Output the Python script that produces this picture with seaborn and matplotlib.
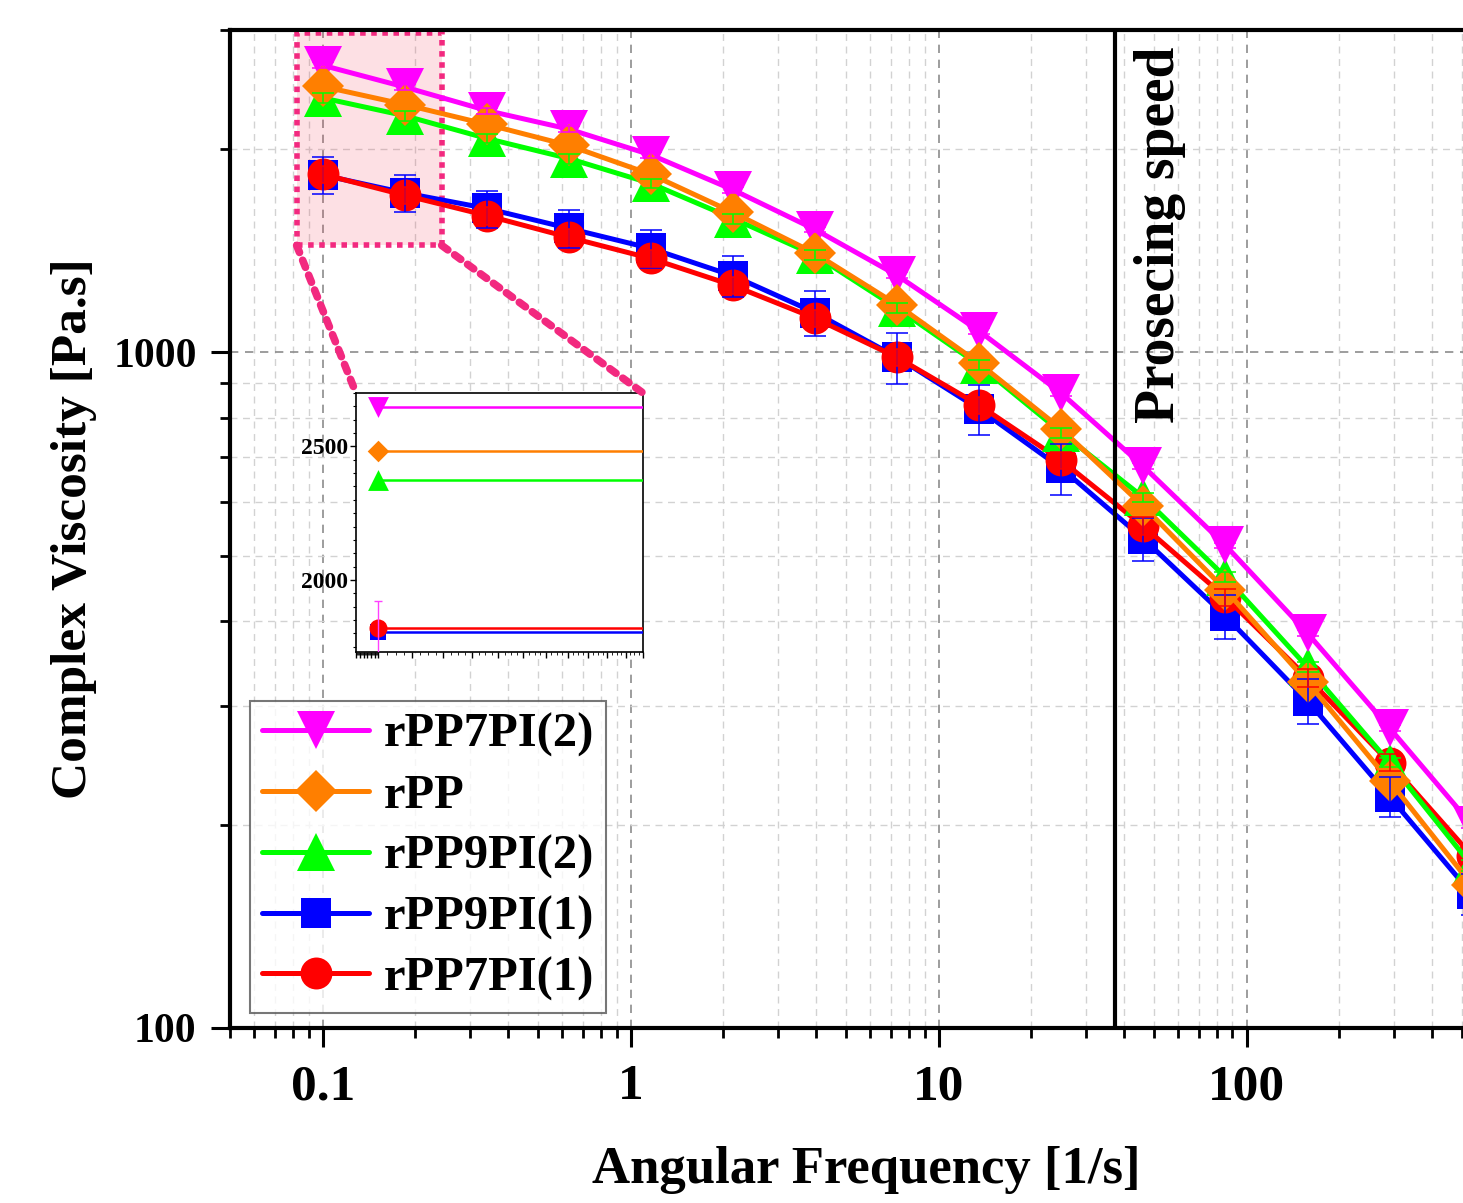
import numpy as np
import pandas as pd
import seaborn as sns
import matplotlib.pyplot as plt
import matplotlib.transforms as mtransforms
from matplotlib.patches import Rectangle, ConnectionPatch
from matplotlib.lines import Line2D
from matplotlib.ticker import FuncFormatter, NullFormatter, MultipleLocator, LogLocator

# ---- data ----
freq = [0.1, 0.1847, 0.3411, 0.630, 1.164, 2.150, 3.971, 7.335, 13.55,
        25.02, 46.22, 85.37, 157.7, 291.2, 537.9]

names = ["rPP7PI(2)", "rPP", "rPP9PI(2)", "rPP9PI(1)", "rPP7PI(1)"]

visc_rpp7pi2 = [2660, 2470, 2280, 2140, 1960, 1740, 1520, 1300, 1075, 870, 678, 518, 384, 278, 200]
visc_rpp = [2475, 2327, 2175, 2024, 1834, 1611, 1401, 1176, 963, 770, 592, 445, 325, 232, 163]
visc_rpp9pi2 = [2380, 2240, 2073, 1936, 1778, 1578, 1392, 1162, 957, 761, 610, 465, 342, 247, 174]
visc_rpp9pi1 = [1830, 1722, 1633, 1526, 1425, 1298, 1145, 983, 824, 674, 530, 407, 305, 220, 158]
visc_rpp7pi1 = [1835, 1708, 1594, 1480, 1377, 1256, 1123, 983, 835, 692, 553, 434, 330, 247, 180]

err_rpp7pi2 = [27, 25, 23, 21, 20, 17, 15, 13, 11, 9, 7, 5, 4, 3, 2]
err_rpp = [50, 46, 43, 40, 36, 32, 28, 24, 19, 15, 12, 9, 6, 5, 3]
err_rpp9pi2 = [40, 38, 35, 33, 30, 27, 24, 20, 16, 13, 10, 8, 6, 4, 3]
err_rpp9pi1 = [115, 108, 103, 100, 90, 91, 88, 84, 70, 59, 39, 30, 23, 15, 11]
err_rpp7pi1 = [55, 50, 48, 44, 41, 38, 34, 30, 25, 21, 17, 13, 10, 7, 5]

# inset (linear y) values at 0.1 1/s
inset_vals = [2647, 2481, 2376, 1805, 1820]

processing_speed = 37.5
zoom_x = [0.0823, 0.2434]
zoom_y = [1440, 2965]

visc = [visc_rpp7pi2, visc_rpp, visc_rpp9pi2, visc_rpp9pi1, visc_rpp7pi1]
errs = [err_rpp7pi2, err_rpp, err_rpp9pi2, err_rpp9pi1, err_rpp7pi1]

colors = ["#ff00ff", "#ff7f00", "#00ff00", "#0000ff", "#ff0000"]
markers = ["v", "D", "^", "s", "o"]
msizes = [28, 21, 28, 21, 23]
in_msizes = [15, 11, 15, 11, 13]
zorders = [6, 7, 5, 3, 4]
pink = "#f2297f"

df = pd.concat([pd.DataFrame({"freq": freq, "visc": v, "err": e, "sample": n})
                for n, v, e in zip(names, visc, errs)], ignore_index=True)

sns.set_theme(style="ticks")
plt.rcParams["font.family"] = ["Liberation Serif", "DejaVu Serif"]
plt.rcParams["font.weight"] = "bold"
plt.rcParams["axes.labelweight"] = "bold"
for k in ["text.color", "axes.labelcolor", "xtick.color", "ytick.color", "axes.edgecolor"]:
    plt.rcParams[k] = "black"

fig = plt.figure(figsize=(14.63, 12.03), dpi=100)
ax = fig.add_axes([230 / 1463, 175 / 1203, 1247 / 1463, 998 / 1203])
ax.set_xscale("log")
ax.set_yscale("log")

for i, n in enumerate(names):
    d = df[df["sample"] == n]
    sns.lineplot(data=d, x="freq", y="visc", ax=ax, color=colors[i], marker=markers[i],
                 markersize=msizes[i], mec=colors[i], mew=0, lw=3.6,
                 zorder=zorders[i], legend=False, sort=False)
    ax.errorbar(d["freq"], d["visc"], yerr=d["err"], fmt="none", ecolor=colors[i],
                elinewidth=1.1, capsize=8, capthick=1.1, zorder=10)

ax.set_xlim(0.05, 560)
ax.set_ylim(100, 3000)

# zoom box
ax.add_patch(Rectangle((zoom_x[0], zoom_y[0]), zoom_x[1] - zoom_x[0], zoom_y[1] - zoom_y[0],
                       facecolor=(0.95, 0.2, 0.3, 0.15), edgecolor=pink, lw=4,
                       ls=(0, (1, 1)), zorder=2))

ax.axvline(processing_speed, color="black", lw=3, zorder=8)
trans = mtransforms.blended_transform_factory(ax.transData, ax.transAxes)
ax.text(52.3, 0.983, "Prosecing speed", transform=trans, rotation=90, va="top",
        ha="center", fontsize=40, fontweight="bold", zorder=9)

ax.grid(True, which="major", color="#8c8c8c", ls=(0, (5, 4)), lw=1.2)
ax.grid(True, which="minor", color="#d2d2d2", ls=(0, (5, 4)), lw=1.0)
ax.set_axisbelow(True)

fmt = FuncFormatter(lambda v, p: f"{v:g}")
ax.xaxis.set_major_formatter(fmt)
ax.yaxis.set_major_formatter(fmt)
ax.xaxis.set_minor_formatter(NullFormatter())
ax.yaxis.set_minor_formatter(NullFormatter())
ax.tick_params(which="major", direction="out", length=14, width=2.2, color="black")
ax.tick_params(which="minor", direction="out", length=7, width=2.0, color="black")
ax.tick_params(axis="x", which="major", labelsize=37, pad=12)
ax.tick_params(axis="y", which="major", labelsize=30, pad=10)
ax.tick_params(top=False, right=False)
for sp in ["left", "bottom", "top"]:
    ax.spines[sp].set_linewidth(3)
    ax.spines[sp].set_color("black")
ax.spines["right"].set_visible(False)

ax.set_xlabel("Angular Frequency [1/s]", fontsize=38, fontweight="bold")
ax.set_ylabel("Complex Viscosity [Pa.s]", fontsize=37, fontweight="bold")
ax.xaxis.set_label_coords(0.51, -0.118)
ax.yaxis.set_label_coords(-0.107, 0.5)

handles = [Line2D([], [], color=c, marker=m, markersize=s, mec=c, mew=0, lw=3.6)
           for c, m, s in zip(colors, markers, msizes)]
leg = ax.legend(handles, names, loc="lower left", bbox_to_anchor=(0.016, 0.015),
                borderaxespad=0, frameon=True, fancybox=False, edgecolor="#555555",
                prop={"family": ["Liberation Serif"], "weight": "bold", "size": 35},
                handlelength=2.2, handletextpad=0.3, labelspacing=0.34, borderpad=0.25)
leg.get_frame().set_linewidth(1.5)
leg.set_zorder(20)

# inset
ax_in = fig.add_axes([356 / 1463, (1203 - 652) / 1203, 287 / 1463, 259 / 1203])
ax_in.set_facecolor("white")
ax_in.set_xscale("log")
ax_in.set_xlim(0.094, 0.21)
ax_in.set_ylim(1730, 2700)
for i, n in enumerate(names):
    ax_in.hlines(inset_vals[i], freq[0], 0.21, color=colors[i], lw=1.8, zorder=zorders[i])
    sns.scatterplot(x=[freq[0]], y=[inset_vals[i]], ax=ax_in, color=colors[i],
                    marker=markers[i], s=in_msizes[i] ** 2, edgecolor=colors[i],
                    linewidth=0, zorder=zorders[i] + 1, legend=False)
ax_in.errorbar([freq[0]], [inset_vals[4]], yerr=[100], fmt="none", ecolor="#ff40ff",
               elinewidth=1.0, capsize=3, zorder=12)
ax_in.yaxis.set_major_locator(MultipleLocator(500))
ax_in.yaxis.set_minor_locator(MultipleLocator(50))
ax_in.xaxis.set_major_locator(LogLocator(base=10, subs=np.arange(1.0, 10.0, 0.1)))
ax_in.xaxis.set_minor_locator(LogLocator(base=10, subs=np.arange(1.0, 10.0, 0.025)))
ax_in.xaxis.set_major_formatter(NullFormatter())
ax_in.xaxis.set_minor_formatter(NullFormatter())
ax_in.yaxis.set_major_formatter(FuncFormatter(lambda v, p: f"{v:g}"))
ax_in.tick_params(axis="y", which="major", direction="out", length=4, width=1, labelsize=17, pad=2)
ax_in.tick_params(axis="y", which="minor", direction="out", length=2.5, width=0.8)
ax_in.tick_params(axis="x", which="major", direction="out", length=4, width=1)
ax_in.tick_params(axis="x", which="minor", direction="out", length=2, width=0.6)
ax_in.set_xlabel("")
ax_in.set_ylabel("")
ax_in.grid(False)
for sp in ax_in.spines.values():
    sp.set_linewidth(1.2)
    sp.set_color("black")

for xa, xb in [(zoom_x[0], 0), (zoom_x[1], 1)]:
    con = ConnectionPatch(xyA=(xa, zoom_y[0]), coordsA=ax.transData,
                          xyB=(xb, 1), coordsB=ax_in.transAxes,
                          color=pink, lw=5.5, ls=(0, (1, 1.1)), zorder=3)
    fig.add_artist(con)

fig.savefig("out.png", dpi=100)
